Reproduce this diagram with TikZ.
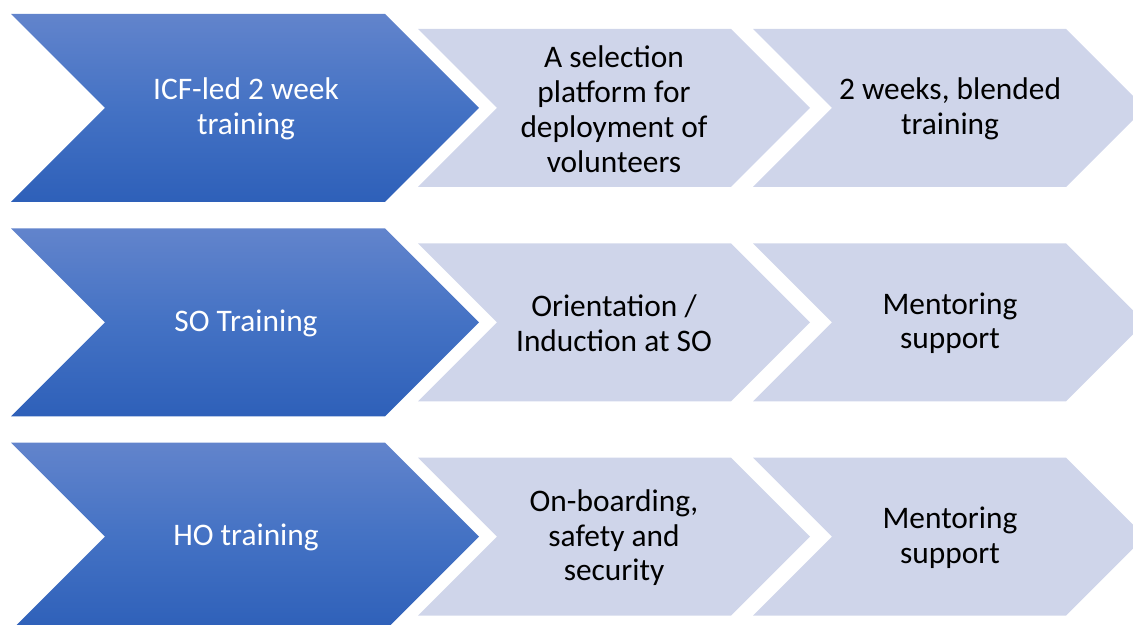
\documentclass[tikz,border=0pt]{standalone}
\usepackage{fontspec}
\setmainfont{Carlito}
\definecolor{lightfill}{HTML}{CFD5EA}
\definecolor{bluetop}{HTML}{6284CC}
\definecolor{bluemid}{HTML}{4472C4}
\definecolor{bluebot}{HTML}{2E60B9}
\begin{document}
\begin{tikzpicture}[x=1bp,y=1bp,
  blueshape/.style={top color=bluetop, bottom color=bluebot, middle color=bluemid, draw=none},
  lightshape/.style={fill=lightfill, draw=none},
  bluetext/.style={text=white, align=center, font=\fontsize{31.5}{35}\selectfont, inner sep=0pt},
  lighttext/.style={text=black, align=center, font=\fontsize{31.5}{35}\selectfont, inner sep=0pt}]
\useasboundingbox (0,0) rectangle (1133,625);
\clip (0,0) rectangle (1133,625);
\foreach \cy [count=\r] in {517,302.7,88.3} {
  \shade[blueshape] (11,\cy+94) -- (385,\cy+94) -- (479,\cy) -- (385,\cy-94) -- (11,\cy-94) -- (105,\cy) -- cycle;
  \fill[lightshape] (418,\cy+79) -- (731,\cy+79) -- (810,\cy) -- (731,\cy-79) -- (418,\cy-79) -- (497,\cy) -- cycle;
  \fill[lightshape] (753,\cy+79) -- (1066,\cy+79) -- (1145,\cy) -- (1066,\cy-79) -- (753,\cy-79) -- (832,\cy) -- cycle;
}
\node[bluetext] (b1) at (246,516) {ICF-led 2 week\\training};
\node[lighttext] (l11) at (614,516) {A selection\\platform for\\deployment of\\volunteers};
\node[lighttext] (l12) at (950,516) {2 weeks, blended\\training};
\node[bluetext] (b2) at (246,301.7) {SO Training};
\node[lighttext] (l21) at (614,301.7) {Orientation /\\Induction at SO};
\node[lighttext] (l22) at (950,301.7) {Mentoring\\support};
\node[bluetext] (b3) at (246,87.3) {HO training};
\node[lighttext] (l31) at (614,87.3) {On-boarding,\\safety and\\security};
\node[lighttext] (l32) at (950,87.3) {Mentoring\\support};
\end{tikzpicture}
\end{document}
